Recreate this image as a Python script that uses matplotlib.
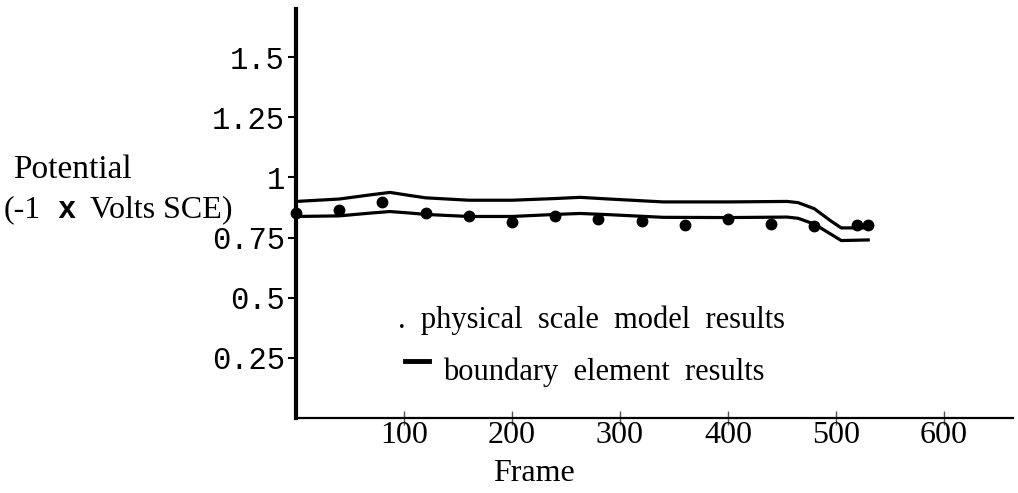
import matplotlib
matplotlib.use("Agg")
import matplotlib.pyplot as plt

# boundary element results (two curves) and physical scale model points
upper_frame = [0, 40, 70, 87, 105, 120, 160, 200, 240, 263, 290, 340, 400, 455, 465, 480, 495, 505, 530]
upper_pot = [0.90, 0.91, 0.928, 0.9375, 0.925, 0.915, 0.905, 0.905, 0.912, 0.917, 0.91, 0.898, 0.898, 0.90, 0.895, 0.87, 0.82, 0.79, 0.79]
lower_frame = [0, 40, 70, 87, 105, 120, 160, 200, 240, 263, 290, 340, 400, 455, 465, 480, 495, 505, 530]
lower_pot = [0.8375, 0.84, 0.852, 0.858, 0.852, 0.846, 0.8375, 0.8375, 0.846, 0.85, 0.845, 0.834, 0.833, 0.835, 0.83, 0.806, 0.765, 0.7375, 0.74]
model_frame = [0, 40, 80, 120, 160, 200, 240, 280, 320, 360, 400, 440, 480, 520, 530]
model_pot = [0.854, 0.8625, 0.896, 0.85, 0.8375, 0.8125, 0.8375, 0.825, 0.817, 0.804, 0.825, 0.808, 0.80, 0.804, 0.804]

yticks = [0.25, 0.5, 0.75, 1, 1.25, 1.5]
ytick_labels = ['0.25', '0.5', '0.75', '1', '1.25', '1.5']
xticks = [100, 200, 300, 400, 500, 600]
xtick_labels = ['100', '200', '300', '400', '500', '600']

fig = plt.figure(figsize=(10.18, 4.93), dpi=100)
ax = fig.add_axes([0.2908, 0.152, 0.7042, 0.830])

ax.plot(upper_frame, upper_pot, color='black', lw=2.3)
ax.plot(lower_frame, lower_pot, color='black', lw=2.3)
ax.plot(model_frame, model_pot, 'o', color='black', ms=7.5, clip_on=False)

ax.set_xlim(0, 664)
ax.set_ylim(0, 1.70)

for s in ['top', 'right']:
    ax.spines[s].set_visible(False)
ax.spines['left'].set_linewidth(3)
ax.spines['bottom'].set_linewidth(1.6)

ax.set_yticks(yticks)
ax.set_yticklabels(ytick_labels, fontfamily='Liberation Mono', fontsize=22)
ax.tick_params(axis='y', direction='out', length=6, width=1.5, pad=2)

ax.set_xticks(xticks)
ax.set_xticklabels(xtick_labels, fontfamily='Liberation Serif', fontsize=23)
ax.tick_params(axis='x', direction='inout', length=10, width=1, pad=-3, color='#555555')

ax.set_xlabel('Frame', fontfamily='Liberation Serif', fontsize=23)
ax.xaxis.set_label_coords(0.332, -0.10)

# y-axis label
fig.text(0.071, 0.655, 'Potential', fontfamily='Liberation Serif', fontsize=24,
         ha='center', va='center')
fig.text(0.004, 0.574, '(-1', fontfamily='Liberation Serif', fontsize=23,
         ha='left', va='center')
fig.text(0.056, 0.574, 'x', fontfamily='Liberation Mono', fontweight='bold', fontsize=22,
         ha='left', va='center')
fig.text(0.088, 0.574, 'Volts SCE)', fontfamily='Liberation Serif', fontsize=23,
         ha='left', va='center')

# legend
ax.text(94, 0.408, '.  physical  scale  model  results', fontfamily='Liberation Serif',
        fontsize=22, ha='left', va='center')
ax.plot([0.152, 0.185], [0.140, 0.140], transform=ax.transAxes, color='black', lw=3.5)
ax.text(136, 0.19, 'boundary  element  results', fontfamily='Liberation Serif',
        fontsize=22, ha='left', va='center')

fig.savefig('out.png', dpi=100)
